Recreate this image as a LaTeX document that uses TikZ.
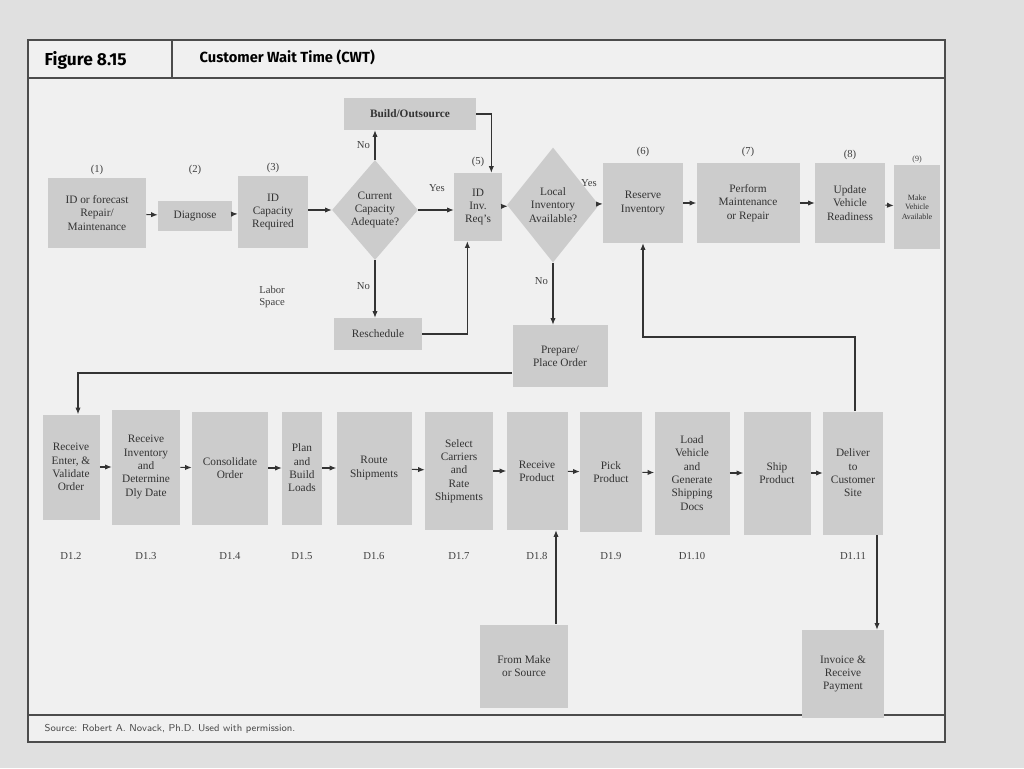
\documentclass[tikz,border=0pt]{standalone}
\usepackage{fontspec}
\setmainfont{Liberation Serif}
\newfontfamily\hd{Fira Sans}
\usetikzlibrary{shapes.geometric,arrows.meta}
\begin{document}
\begin{tikzpicture}[x=0.75pt,y=-0.75pt,
  sz/.style 2 args={minimum width=#1*0.75pt,minimum height=#2*0.75pt},
  box/.style={fill=black!20,draw=none,align=center,inner sep=1pt,font=\fontsize{8.5}{10}\selectfont,text=black!80},
  dia/.style={diamond,fill=black!20,align=center,inner sep=0pt,font=\fontsize{8.5}{10}\selectfont,text=black!80},
  lab/.style={font=\fontsize{8}{9}\selectfont,text=black!75},
  ar/.style={-{Latex[length=5pt,width=4pt]},black!80,line width=0.8pt}]
\fill[black!12] (0,0) rectangle (1024,768);
\useasboundingbox (0,0) rectangle (1024,768);
\fill[black!6] (28,40) rectangle (945,742);
\draw[black!70,line width=1pt] (28,40) rectangle (945,742) (28,78)--(945,78) (172,40)--(172,78) (28,715)--(945,715);
\node[anchor=west,font=\hd\bfseries\fontsize{13}{14}\selectfont] (fig) at (40,60) {Figure 8.15};
\node[anchor=west,font=\hd\bfseries\fontsize{11}{12}\selectfont] (tt) at (195,57) {Customer Wait Time (CWT)};
\node[anchor=west,font=\sffamily\fontsize{7.5}{8}\selectfont,text=black!70] (src) at (40,729) {Source: Robert A. Novack, Ph.D. Used with permission.};
% top row
\node[box,sz={98}{70}] (n1) at (97,213) {ID or forecast\\Repair/\\Maintenance};
\node[box,sz={74}{30}] (n2) at (195,216) {Diagnose};
\node[box,sz={70}{72}] (n3) at (273,212) {ID\\Capacity\\Required};
\node[dia,sz={86}{100}] (d1) at (375,210) {Current\\Capacity\\Adequate?};
\node[box,font=\bfseries\fontsize{8.5}{10}\selectfont,sz={132}{32}] (bo) at (410,114) {Build/Outsource};
\node[box,sz={88}{32}] (rs) at (378,334) {Reschedule};
\node[box,sz={48}{68}] (n5) at (478,207) {ID\\Inv.\\Req's};
\node[dia,sz={92}{115}] (d2) at (553,205) {Local\\Inventory\\Available?};
\node[box,sz={80}{80}] (n6) at (643,203) {Reserve\\Inventory};
\node[box,sz={103}{80}] (n7) at (748,203) {Perform\\Maintenance\\or Repair};
\node[box,sz={70}{80},text width=50] (n8) at (850,203) {Update\\Vehicle\\Readiness};
\node[box,sz={46}{84},font=\fontsize{6}{7}\selectfont] (n9) at (917,207) {Make\\Vehicle\\Available};
\node[box,sz={95}{62}] (po) at (560,356) {Prepare/\\Place Order};
\node[lab] (l1) at (97,170) {(1)};
\node[lab] (l2) at (195,170) {(2)};
\node[lab] (l3) at (273,168) {(3)};
\node[lab] (l5) at (478,162) {(5)};
\node[lab] (l6) at (643,152) {(6)};
\node[lab] (l7) at (748,152) {(7)};
\node[lab] (l8) at (850,155) {(8)};
\node[lab,font=\fontsize{6}{7}\selectfont] (l9) at (917,160) {(9)};
\node[lab,align=center] (lsp) at (272,297) {Labor\\Space};
% bottom row
\node[box,sz={57}{105}] (b2) at (71,467) {Receive\\Enter, \&\\Validate\\Order};
\node[box,sz={68}{115}] (b3) at (146,467) {Receive\\Inventory\\and\\Determine\\Dly Date};
\node[box,sz={76}{113}] (b4) at (230,468) {Consolidate\\Order};
\node[box,sz={40}{113}] (b5) at (302,468) {Plan\\and\\Build\\Loads};
\node[box,sz={75}{113}] (b6) at (374,468) {Route\\Shipments};
\node[box,sz={68}{118}] (b7) at (459,471) {Select\\Carriers\\and\\Rate\\Shipments};
\node[box,sz={61}{118}] (b8) at (537,471) {Receive\\Product};
\node[box,sz={62}{120}] (b9) at (611,472) {Pick\\Product};
\node[box,sz={75}{123}] (b10) at (692,473) {Load\\Vehicle\\and\\Generate\\Shipping\\Docs};
\node[box,sz={67}{123}] (b11) at (777,473) {Ship\\Product};
\node[box,sz={60}{123}] (b12) at (853,473) {Deliver\\to\\Customer\\Site};
\node[box,sz={88}{83}] (fm) at (524,666) {From Make\\or Source};
\node[box,sz={82}{88}] (inv) at (843,674) {Invoice \&\\Receive\\Payment};
\foreach \b/\t in {b2/D1.2,b3/D1.3,b4/D1.4,b5/D1.5,b6/D1.6,b7/D1.7,b8/D1.8,b9/D1.9,b10/D1.10,b12/D1.11}
  \node[lab,anchor=north] (t\b) at (\b.center |- 0,548) {\t};
% connectors
\draw[ar] (n1) -- (n2);
\draw[ar] (n2) -- (n3);
\draw[ar] (n3.east |- d1.east) -- (d1.west);
\draw[ar] (d1.east) -- (n5.west |- d1.east);
\node[lab] (ly1) at (437,188) {Yes};
\draw[ar] (d1.north) -- node[lab,left,pos=0.5] (ln1) {No} (bo.south -| d1.north);
\draw[ar] (d1.south) -- node[lab,left,pos=0.45] (ln2) {No} (rs.north -| d1.south);
\draw[ar] (bo.east) -| ([xshift=10]n5.north);
\draw[ar] (rs.east) -| ([xshift=-8]n5.south);
\draw[ar] (n5) -- (d2);
\draw[ar] (d2) -- (n6);
\node[lab] (ly2) at (589,183) {Yes};
\draw[ar] (d2.south) -- node[lab,left,pos=0.3] (ln3) {No} (po.north -| d2.south);
\draw[ar] (n6) -- (n7);
\draw[ar] (n7) -- (n8);
\draw[ar] (n8) -- (n9);
\coordinate (c1) at (78,373);
\draw[ar] (po.west |- c1) -- (c1) -- (b2.north -| c1);
\draw[ar] (b2) -- (b3);
\draw[ar] (b3) -- (b4);
\draw[ar] (b4) -- (b5);
\draw[ar] (b5) -- (b6);
\draw[ar] (b6) -- (b7);
\draw[ar] (b7) -- (b8);
\draw[ar] (b8) -- (b9);
\draw[ar] (b9) -- (b10);
\draw[ar] (b10) -- (b11);
\draw[ar] (b11) -- (b12);
\coordinate (c4) at (556,0);
\draw[ar] (fm.north -| c4) -- (b8.south -| c4);
\coordinate (c2) at (855,337);
\draw[ar] (b12.north -| c2) -- (c2) -- (c2 -| n6.south) -- (n6.south);
\coordinate (c3) at (877,0);
\draw[ar] (b12.south -| c3) -- (inv.north -| c3);
\end{tikzpicture}
\end{document}
